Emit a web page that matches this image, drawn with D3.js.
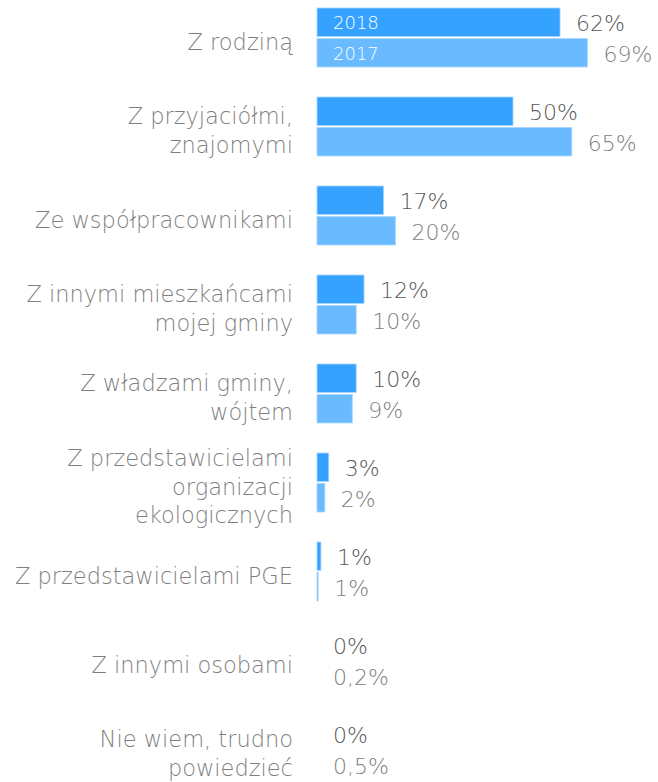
<!DOCTYPE html>
<html>
<head>
<meta charset="utf-8">
<script src="https://cdn.jsdelivr.net/npm/d3@7"></script>
<style>
  body { margin: 0; background: #fff; }
  text { font-family: "DejaVu Sans", sans-serif; font-weight: 200; }
</style>
</head>
<body>
<div id="chart"></div>
<script>
// categories, one array of lines per category (labels are wrapped like the original)
const categories = [
  ['Z rodziną'],
  ['Z przyjaciółmi,', 'znajomymi'],
  ['Ze współpracownikami'],
  ['Z innymi mieszkańcami', 'mojej gminy'],
  ['Z władzami gminy,', 'wójtem'],
  ['Z przedstawicielami', 'organizacji', 'ekologicznych'],
  ['Z przedstawicielami PGE'],
  ['Z innymi osobami'],
  ['Nie wiem, trudno', 'powiedzieć']
];
const years = ['2018', '2017'];
// bar lengths (%)
const values2018 = [62, 50, 17, 12, 10, 3, 1, 0, 0];
const values2017 = [69, 65, 20, 10, 9, 2, 0.3, 0, 0];
// value labels as printed
const labels2018 = ['62%', '50%', '17%', '12%', '10%', '3%', '1%', '0%', '0%'];
const labels2017 = ['69%', '65%', '20%', '10%', '9%', '2%', '1%', '0,2%', '0,5%'];

const width = 658, height = 782;
const colors = {'2018': '#35a2ff', '2017': '#69baff'};
const labelColors = {'2018': '#595959', '2017': '#7f7f7f'};

const svg = d3.select('#chart').append('svg')
  .attr('width', width)
  .attr('height', height);

const keys = categories.map((c, i) => i);

let y = d3.scaleBand()
  .domain(keys)
  .range([8, 779])
  .paddingInner(30 / 89)
  .paddingOuter(0);

let ySub = d3.scaleBand()
  .domain(years)
  .range([0, y.bandwidth()])
  .paddingInner(2 / 30.5);

let x = d3.scaleLinear()
  .domain([0, 100])
  .range([317, 317 + 392]);

const rows = keys.map(i => ({
  i: i,
  lines: categories[i],
  bars: [
    {year: '2018', v: values2018[i], label: labels2018[i]},
    {year: '2017', v: values2017[i], label: labels2017[i]}
  ]
}));

const g = svg.selectAll('g.row')
  .data(rows)
  .enter().append('g')
  .attr('class', 'row')
  .attr('transform', d => 'translate(0,' + y(d.i) + ')');

// category labels
g.each(function(d) {
  let n = d.lines.length;
  let center = y.bandwidth() / 2;
  let first = center + 12 - (n - 1) * 28.5 / 2;
  let t = d3.select(this).append('text')
    .attr('text-anchor', 'end')
    .attr('fill', '#7f7f7f')
    .style('font-size', '22.5px');
  d.lines.forEach((line, k) => {
    t.append('tspan')
      .attr('x', 293)
      .attr('y', first + k * 28.5)
      .text(line);
  });
});

// bars
g.selectAll('rect')
  .data(d => d.bars.filter(b => b.v > 0))
  .enter().append('rect')
  .attr('x', x(0))
  .attr('y', b => ySub(b.year))
  .attr('width', b => x(b.v) - x(0))
  .attr('height', ySub.bandwidth())
  .attr('fill', b => colors[b.year])
  .attr('stroke', '#a9d6ff')
  .attr('stroke-width', 0.8);

// value labels
g.selectAll('text.val')
  .data(d => d.bars)
  .enter().append('text')
  .attr('class', 'val')
  .attr('x', b => x(b.v) + 16)
  .attr('y', b => ySub(b.year) + ySub.bandwidth() / 2 + 9)
  .attr('fill', b => labelColors[b.year])
  .style('font-size', '22px')
  .text(b => b.label);

// year names inside the first pair of bars
svg.append('g').selectAll('text')
  .data(years)
  .enter().append('text')
  .attr('x', x(0) + 16)
  .attr('y', yr => y(0) + ySub(yr) + ySub.bandwidth() / 2 + 7)
  .attr('fill', '#ffffff')
  .style('font-size', '18px')
  .text(yr => yr);
</script>
</body>
</html>
